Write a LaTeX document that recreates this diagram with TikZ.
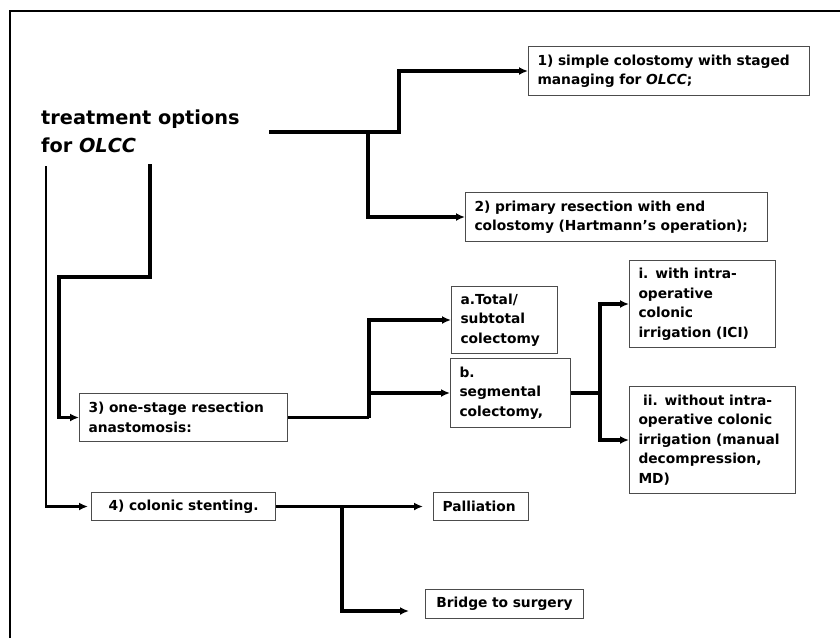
\documentclass[tikz,border=0pt]{standalone}
\usepackage{fontspec}
\setmainfont{DejaVu Sans}
\usetikzlibrary{arrows.meta,calc}
\newcommand{\boxfont}{\fontsize{13.8}{19.5}\selectfont\bfseries}
\newcommand{\headfont}{\fontsize{19.3}{28}\selectfont\bfseries}
\begin{document}
\begin{tikzpicture}
	[
	x=1pt, y=-1pt, >={Latex[length=9pt,width=8pt]},
	%Kästchen und Verbindungen
	opt/.style={draw=black!70, line width=1pt, anchor=north west, align=left, inner xsep=9pt, inner ysep=0pt, font=\boxfont},
	conn/.style={line width=3.3pt},
	thinconn/.style={line width=2.3pt}
	]
	\useasboundingbox (0,0) rectangle (840,638);
	%Rahmen
	\draw[line width=2pt] (10,638) -- (10,11) -- (840,11);
	%Überschrift
	\node[anchor=north west, align=left, inner sep=0pt, font=\headfont] (title) at (41,110) {treatment options\\for \textit{OLCC}};
	%Kästchen
	\node[opt, text width=263, minimum height=49] (simple) at (528,46) {1) simple colostomy with staged\\managing for \textit{OLCC};};
	\node[opt, text width=284, minimum height=49] (hartmann) at (465,192) {2) primary resection with end\\colostomy (Hartmann’s operation);};
	\node[opt, text width=88, minimum height=67] (total) at (451,286) {a.Total/\\subtotal\\colectomy};
	\node[opt, text width=102, minimum height=69] (segm) at (450,358) {b.\\segmental\\colectomy,};
	\node[opt, text width=128, minimum height=87] (ici) at (629,260) {i. with intra-\\operative\\colonic\\irrigation (ICI)};
	\node[opt, text width=148, minimum height=107] (md) at (629,386) {\ ii. without intra-\\operative colonic\\irrigation (manual\\decompression,\\MD)};
	\node[opt, text width=190, minimum height=48] (onestage) at (79,393) {3) one-stage resection\\anastomosis:};
	\node[opt, text width=166, minimum height=28, align=center] (stent) at (91,492) {4) colonic stenting.};
	\node[opt, text width=77, minimum height=28] (pall) at (433,492) {Palliation};
	\node[opt, text width=140, minimum height=29, align=center] (bridge) at (425,589) {Bridge to surgery};
	%Verbindungen
	\coordinate (tr) at (269,132);
	\coordinate (tl) at (46,166);
	\coordinate (tm) at (150,164);
	\draw[conn, ->] (tr) -- ++(130,0) |- (simple.west);
	\draw[conn, ->] ($(tr)+(99,0)$) |- (hartmann.west);
	\draw[thinconn, ->, shorten >=3pt] (tl) |- (stent.west);
	\draw[conn, ->] (tm) |- ++(-91,113) |- (onestage.west);
	\draw[conn] (onestage.east) -- ++(81,0) coordinate (j3);
	\draw[conn, ->] (j3) |- (total.west);
	\draw[conn, ->] (j3) |- (segm.west);
	\draw[conn] (segm.east) -- ++(29,0) coordinate (jb);
	\draw[conn, ->] (jb) |- (ici.west);
	\draw[conn, ->] (jb) |- (md.west);
	\draw[conn, ->, shorten >=10pt] (stent.east) -- (pall.west);
	\coordinate (j4) at ($(stent.east)+(66,0)$);
	\coordinate (bb) at ($(bridge.west)+(-16,7)$);
	\draw[conn, ->] (j4) |- (bb);
\end{tikzpicture}
\end{document}
